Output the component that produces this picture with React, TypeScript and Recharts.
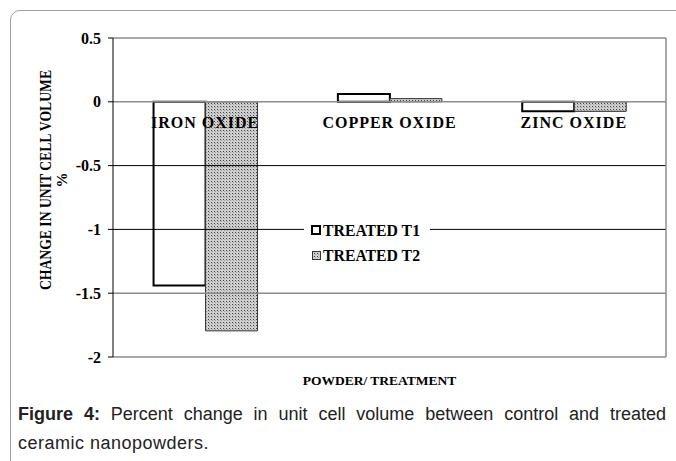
import React from 'react';
import { BarChart, Bar, XAxis, YAxis, ReferenceLine, ReferenceDot, Legend } from 'recharts';

const categories = ['IRON OXIDE', 'COPPER OXIDE', 'ZINC OXIDE'];
const treatedT1 = [-1.44, 0.062, -0.075];
const treatedT2 = [-1.795, 0.025, -0.075];
const yTicks = [0.5, 0, -0.5, -1, -1.5, -2];
const seriesNames = ['TREATED T1', 'TREATED T2'];

const data = categories.map((name, i) => ({ name, t1: treatedT1[i], t2: treatedT2[i] }));

const serif = '"Liberation Serif", "Times New Roman", serif';

const YTitle = () => {
  const cy = 180;
  const x1 = 45;
  const x2 = 62;
  return (
    <g>
      <text x={x1} y={cy} transform={`rotate(-90 ${x1} ${cy})`} textAnchor="middle" dominantBaseline="central"
        fontFamily={serif} fontWeight="bold" fontSize={16} fill="#000" textLength={220} lengthAdjust="spacingAndGlyphs">CHANGE IN UNIT CELL VOLUME</text>
      <text x={x2} y={cy} transform={`rotate(-90 ${x2} ${cy})`} textAnchor="middle" dominantBaseline="central"
        fontFamily={serif} fontWeight="bold" fontSize={15} fill="#000">%</text>
    </g>
  );
};

const YTick = (props: any) => {
  const { x, y, payload } = props;
  return (
    <text x={x} y={y} textAnchor="end" dominantBaseline="central" fontFamily={serif} fontWeight="bold" fontSize={16} fill="#000">
      {String(payload.value)}
    </text>
  );
};

const LegendContent = () => (
  <svg width={126} height={50} style={{ display: 'block' }}>
    <rect x={0} y={0} width={126} height={50} fill="#fff" />
    <rect x={8} y={10} width={8} height={8} fill="#fff" stroke="#000" strokeWidth={2} />
    <text x={19} y={14} dominantBaseline="central" fontFamily={serif} fontWeight="bold" fontSize={16} fill="#000"
      textLength={97} lengthAdjust="spacingAndGlyphs">{seriesNames[0]}</text>
    <rect x={8.5} y={35.5} width={8} height={8} fill="url(#dots)" stroke="#333" strokeWidth={1} />
    <text x={19} y={39} dominantBaseline="central" fontFamily={serif} fontWeight="bold" fontSize={16} fill="#000"
      textLength={97} lengthAdjust="spacingAndGlyphs">{seriesNames[1]}</text>
  </svg>
);

const captionFont = '"Liberation Sans", Arial, sans-serif';

export default function App() {
  return (
    <div style={{ position: 'absolute', left: 0, top: 0, width: 676, height: 461, background: '#fff', overflow: 'hidden' }}>
      <div style={{ position: 'absolute', left: 10, top: 10, width: 720, height: 520, border: '1px solid #a0a0a0', borderRadius: 10, boxSizing: 'border-box' }} />
      <svg width={0} height={0} style={{ position: 'absolute' }}>
        <defs>
          <pattern id="dots" width={3} height={3} patternUnits="userSpaceOnUse">
            <rect width={3} height={3} fill="#cfcfcf" />
            <rect x={1} y={1} width={1} height={1} fill="#444" />
            <rect x={2} y={2} width={1} height={1} fill="#9a9a9a" />
          </pattern>
        </defs>
      </svg>
      <div style={{ position: 'absolute', left: 0, top: 0 }}>
        <BarChart width={676} height={461} data={data} margin={{ top: 38, right: 10, bottom: 64, left: 0 }}
          barCategoryGap="22%" barGap={0}>
          <XAxis dataKey="name" tick={false} axisLine={false} tickLine={false} height={40}
            label={{ value: 'POWDER/ TREATMENT', position: 'insideTop', offset: 18, dx: -10, fontFamily: serif, fontWeight: 'bold', fontSize: 13.5, fill: '#000' }} />
          <YAxis width={113} domain={[-2, 0.5]} ticks={yTicks} interval={0} allowDataOverflow
            axisLine={{ stroke: '#000', strokeWidth: 1 }} tickLine={{ stroke: '#000' }} tickSize={5} tickMargin={7}
            tick={<YTick />}
            label={<YTitle />} />
          <ReferenceLine y={0.5} stroke="#8c8c8c" strokeWidth={1.5} />
          <ReferenceLine y={-0.5} stroke="#000" />
          <ReferenceLine y={-1} stroke="#000" />
          <ReferenceLine y={-1.5} stroke="#8c8c8c" strokeWidth={1.5} />
          <ReferenceLine y={-2} stroke="#8c8c8c" strokeWidth={1.5} />
          <ReferenceLine x={categories[2]} position="end" stroke="#8c8c8c" strokeWidth={1.5} />
          <Legend layout="horizontal" verticalAlign="middle" align="center" content={<LegendContent />}
            wrapperStyle={{ left: 304, top: 216, width: 126, height: 50 }} />
          <Bar dataKey="t1" name={seriesNames[0]} fill="#fff" stroke="#000" strokeWidth={2} isAnimationActive={false} />
          <Bar dataKey="t2" name={seriesNames[1]} fill="url(#dots)" stroke="#333" strokeWidth={1} isAnimationActive={false} />
          <ReferenceLine y={0} stroke="#8c8c8c" strokeWidth={1.5} />
          {categories.map((c) => (
            <ReferenceDot key={c} x={c} y={0} r={0} fill="none" stroke="none"
              label={{ value: c, position: 'bottom', offset: 15, fontFamily: serif, fontWeight: 'bold', fontSize: 16, letterSpacing: 1, fill: '#000' }} />
          ))}
        </BarChart>
      </div>
      <div style={{ position: 'absolute', left: 18, top: 400, width: 648, fontFamily: captionFont, fontSize: 18, lineHeight: '29px', color: '#222', textAlign: 'justify', textAlignLast: 'justify', whiteSpace: 'nowrap' }}>
        <b>Figure 4:</b> Percent change in unit cell volume between control and treated
      </div>
      <div style={{ position: 'absolute', left: 18, top: 429, fontFamily: captionFont, fontSize: 18, lineHeight: '29px', color: '#222', letterSpacing: 0.5, whiteSpace: 'nowrap' }}>
        ceramic nanopowders.
      </div>
    </div>
  );
}
